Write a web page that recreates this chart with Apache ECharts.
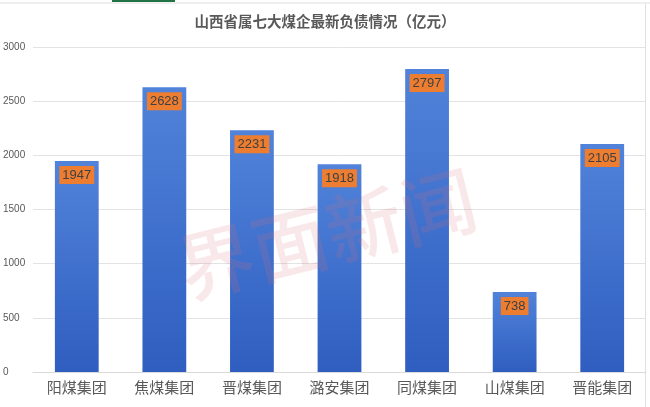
<!DOCTYPE html>
<html><head><meta charset="utf-8">
<script src="https://cdn.jsdelivr.net/npm/echarts@6/dist/echarts.min.js"></script>
<style>html,body{margin:0;padding:0;background:#fff}#c{width:650px;height:407px}</style>
</head><body><div id="c"></div>
<script>
const categories = ['阳煤集团','焦煤集团','晋煤集团','潞安集团','同煤集团','山煤集团','晋能集团'];
const debt = [1947, 2628, 2231, 1918, 2797, 738, 2105];
const yTicks = [0, 500, 1000, 1500, 2000, 2500, 3000];

const chart = echarts.init(document.getElementById('c'), null, {renderer:'canvas'});
chart.setOption({
  backgroundColor: '#fff',
  animation: false,
  title: {
    text: '山西省属七大煤企最新负债情况（亿元）',
    left: 'center', top: 9,
    textStyle: {fontFamily: 'Noto Sans CJK SC', fontSize: 14.5, fontWeight: 'bold', color: '#595959'}
  },
  grid: {left: 32, right: 4, top: 47, bottom: 35, containLabel: false},
  xAxis: {
    type: 'category', data: categories,
    axisLine: {lineStyle: {color: '#D9D9D9'}},
    axisTick: {show: false},
    axisLabel: {fontFamily: 'Noto Sans CJK SC', fontSize: 15, color: '#595959', margin: 8}
  },
  yAxis: {
    type: 'value', min: yTicks[0], max: yTicks[yTicks.length-1], interval: 500,
    axisLine: {show: false}, axisTick: {show: false},
    splitLine: {lineStyle: {color: '#E3E3E3'}},
    axisLabel: {fontFamily: 'Liberation Sans', fontSize: 10, color: '#595959', align: 'left', margin: 30,
      formatter: v => String(v)}
  },
  series: [{
    type: 'bar', data: debt, barWidth: '50%',
    itemStyle: {color: new echarts.graphic.LinearGradient(0,0,0,1,[
      {offset:0, color:'#5183DA'},{offset:1, color:'#2F5EC0'}])},
    label: {
      show: true, position: 'insideTop', distance: 5,
      backgroundColor: '#ED7D31', color: '#404040',
      fontFamily: 'Liberation Sans', fontSize: 13, padding: [3,3,2,3]
    }
  }],
  graphic: [
    {type:'text', x: 327, y: 234, z: 100, rotation: 14*Math.PI/180,
     style:{text:'界面新闻', font:'500 76px "Noto Sans CJK SC"', fill:'rgba(215,110,120,0.16)',
       textAlign:'center', textVerticalAlign:'middle'}},
    {type:'rect', shape:{x:112,y:0,width:63,height:2}, style:{fill:'#217346'}},
    {type:'line', shape:{x1:0,y1:3,x2:650,y2:3}, style:{stroke:'#E0E0E0', lineWidth:1}},
    {type:'line', shape:{x1:645.5,y1:3,x2:645.5,y2:407}, style:{stroke:'#E0E0E0', lineWidth:1}}
  ]
});
</script></body></html>
